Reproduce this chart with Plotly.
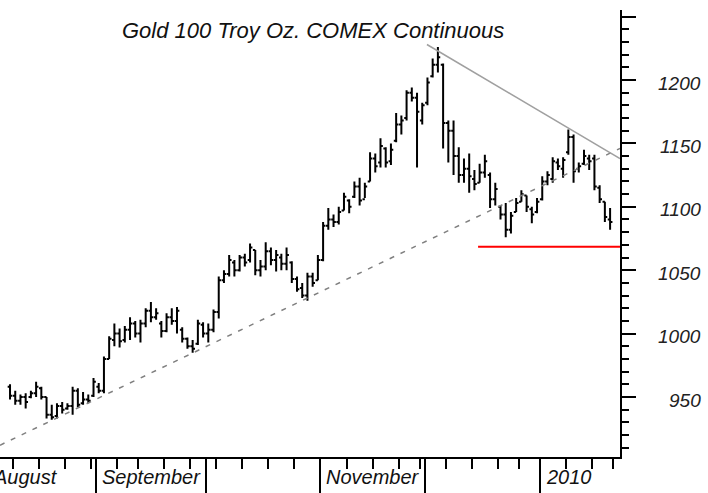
import pandas as pd
import plotly.graph_objects as go

# ---------------- data ----------------
first_bar_date = "2009-08-07"
calendar_start = "2009-08-03"
calendar_end = "2010-01-25"
holidays = ["2009-09-07", "2009-11-26", "2009-12-25", "2010-01-01", "2010-01-18"]

opens = [958, 951, 947, 950, 950, 953, 957, 950, 936, 935, 943, 941, 943, 955, 945, 948, 951,
         958, 955, 980, 995, 1000, 995, 1003, 1008, 1000, 1008, 1018, 1013, 1008, 1002, 1013, 1010,
         1003, 996, 990, 992, 1007, 1000, 1003, 1017, 1042, 1047, 1056, 1050, 1060, 1058, 1066, 1050,
         1053, 1065, 1058, 1060, 1055, 1056, 1043, 1036, 1030, 1045, 1042, 1058, 1085, 1090, 1088,
         1097, 1105, 1108, 1116, 1106, 1120, 1138, 1135, 1146, 1136, 1152, 1165, 1170, 1190, 1186,
         1168, 1182, 1203, 1212, 1212, 1166, 1160, 1140, 1125, 1130, 1122, 1119, 1127, 1125, 1106,
         1100, 1094, 1082, 1096, 1104, 1109, 1098, 1096, 1106, 1120, 1122, 1135, 1130, 1143, 1155,
         1130, 1134, 1138, 1138, 1115, 1104, 1090]
highs = [960, 955, 952, 953, 955, 962, 958, 950, 944, 945, 946, 945, 958, 957, 954, 952, 965,
         961, 982, 998, 1008, 1004, 1006, 1013, 1010, 1011, 1020, 1025, 1020, 1010, 1016, 1020, 1021,
         1005, 997, 995, 1011, 1009, 1008, 1019, 1045, 1050, 1062, 1058, 1062, 1063, 1071, 1066, 1058,
         1072, 1068, 1066, 1063, 1068, 1057, 1045, 1040, 1048, 1048, 1062, 1088, 1099, 1094, 1100,
         1111, 1106, 1120, 1123, 1119, 1143, 1142, 1154, 1147, 1150, 1174, 1172, 1192, 1194, 1190,
         1182, 1202, 1217, 1226, 1213, 1168, 1168, 1147, 1138, 1142, 1129, 1134, 1141, 1127, 1119,
         1101, 1103, 1096, 1107, 1113, 1109, 1100, 1107, 1124, 1128, 1139, 1138, 1139, 1161, 1157,
         1135, 1145, 1141, 1141, 1117, 1104, 1099]
lows = [948, 944, 944, 941, 949, 950, 948, 933, 932, 933, 937, 940, 936, 942, 944, 945, 950,
        953, 953, 980, 990, 989, 993, 995, 997, 993, 1005, 1009, 1011, 997, 1001, 1007, 1000,
        993, 988, 985, 991, 997, 993, 1001, 1012, 1040, 1045, 1045, 1049, 1053, 1056, 1046, 1045,
        1050, 1054, 1049, 1050, 1050, 1040, 1033, 1028, 1026, 1037, 1042, 1057, 1082, 1084, 1086,
        1097, 1095, 1107, 1101, 1107, 1120, 1127, 1131, 1131, 1133, 1151, 1157, 1168, 1183, 1131,
        1165, 1180, 1202, 1206, 1146, 1135, 1125, 1119, 1119, 1111, 1113, 1119, 1123, 1099, 1101,
        1090, 1076, 1079, 1096, 1104, 1096, 1087, 1095, 1105, 1117, 1119, 1129, 1123, 1141, 1119,
        1127, 1133, 1129, 1113, 1103, 1088, 1082]
closes = [951, 947, 950, 946, 953, 958, 950, 936, 934, 943, 940, 943, 955, 944, 948, 947, 962,
          955, 980, 996, 1000, 994, 1003, 1008, 1000, 1008, 1018, 1013, 1016, 1002, 1013, 1010, 1018,
          996, 990, 988, 1008, 1000, 1003, 1017, 1042, 1047, 1058, 1050, 1060, 1056, 1068, 1050, 1053,
          1065, 1058, 1062, 1055, 1062, 1043, 1035, 1030, 1045, 1040, 1058, 1085, 1090, 1088, 1096,
          1108, 1100, 1116, 1105, 1116, 1138, 1132, 1148, 1135, 1145, 1165, 1168, 1190, 1186, 1175,
          1180, 1198, 1212, 1218, 1166, 1160, 1140, 1125, 1130, 1124, 1118, 1127, 1136, 1106, 1114,
          1094, 1082, 1093, 1103, 1110, 1100, 1094, 1104, 1120, 1125, 1136, 1132, 1137, 1155, 1128,
          1132, 1140, 1136, 1116, 1106, 1092, 1088]

month_labels = {"2009-08": "August", "2009-09": "September", "2009-11": "November", "2010-01": "2010"}
price_labels = [950, 1000, 1050, 1100, 1150, 1200]

# drawn trend lines (trading-day index, price)
support_x = [-1.92, 116.9]
support_y = [912, 1146]
resistance_x = [79.9, 116.9]
resistance_y = [1228, 1138]
level_x = [89.7, 116.9]
level_y = [1068.5, 1068.5]

title_text = "Gold 100 Troy Oz. COMEX Continuous"

x_range = [-1.92, 116.9]
y_range = [902.7, 1255.2]

# ---------------- calendar ----------------
calendar = [d for d in pd.bdate_range(calendar_start, calendar_end)
            if d.strftime("%Y-%m-%d") not in holidays]
offset = [d.strftime("%Y-%m-%d") for d in calendar].index(first_bar_date)
xpos = [i - offset for i in range(len(calendar))]
bar_x = list(range(len(closes)))

month_bounds = []
week_bounds = []
for i, d in enumerate(calendar):
    if i == 0 or d.month != calendar[i - 1].month:
        month_bounds.append((xpos[i] - 0.5, d.strftime("%Y-%m")))
    if i > 0 and d.weekday() < calendar[i - 1].weekday():
        week_bounds.append(xpos[i] - 0.5)

fig = go.Figure()
fig.add_trace(go.Ohlc(
    x=bar_x, open=opens, high=highs, low=lows, close=closes,
    increasing=dict(line=dict(color="black", width=2)),
    decreasing=dict(line=dict(color="black", width=2)),
    tickwidth=0.45, showlegend=False, hoverinfo="skip"))

fig.add_trace(go.Scatter(x=support_x, y=support_y, mode="lines",
                         line=dict(color="#808080", width=1.5, dash="5px,7px"),
                         showlegend=False, hoverinfo="skip"))
fig.add_trace(go.Scatter(x=resistance_x, y=resistance_y, mode="lines",
                         line=dict(color="#a0a0a0", width=1.5),
                         showlegend=False, hoverinfo="skip"))
fig.add_trace(go.Scatter(x=level_x, y=level_y, mode="lines",
                         line=dict(color="#ff0000", width=2),
                         showlegend=False, hoverinfo="skip"))

font_family = "Liberation Sans, Arial, sans-serif"
annotations = []
for v in price_labels:
    annotations.append(dict(x=1.134, xref="paper", y=v, yref="y", text=str(v),
                            showarrow=False, xanchor="right", yanchor="middle", yshift=-3,
                            font=dict(family=font_family, size=19, color="#222222", style="italic")))
span = x_range[1] - x_range[0]
for b, key in month_bounds:
    if key in month_labels:
        annotations.append(dict(x=(b - x_range[0]) / span, xref="paper", y=-0.045, yref="paper",
                                text=month_labels[key], showarrow=False, xanchor="left",
                                yanchor="middle", xshift=4,
                                font=dict(family=font_family, size=20, color="#111111", style="italic")))
annotations.append(dict(x=0.505, xref="paper", y=0.955, yref="paper", text=title_text,
                        showarrow=False, xanchor="center", yanchor="middle",
                        font=dict(family=font_family, size=22, color="#111111", style="italic")))

fig.update_layout(
    width=708, height=493,
    margin=dict(l=0, r=88, t=10, b=36),
    paper_bgcolor="white", plot_bgcolor="white",
    showlegend=False,
    annotations=annotations,
    xaxis=dict(range=x_range, showgrid=False, zeroline=False, showline=True,
               linecolor="black", linewidth=2, showticklabels=False,
               ticks="outside", tickmode="array",
               tickvals=[b for b, _ in month_bounds], ticklen=36, tickwidth=1.5, tickcolor="black",
               minor=dict(tickmode="array", tickvals=week_bounds, ticks="outside",
                          ticklen=10, tickwidth=2, tickcolor="black", showgrid=False),
               rangeslider=dict(visible=False), fixedrange=True),
    yaxis=dict(range=y_range, side="right", showgrid=False, zeroline=False, showline=True,
               linecolor="black", linewidth=2, showticklabels=False,
               ticks="outside", tick0=0, dtick=50, ticklen=14, tickwidth=2, tickcolor="black",
               minor=dict(tick0=0, dtick=10, ticks="outside", ticklen=7, tickwidth=2,
                          tickcolor="black", showgrid=False),
               fixedrange=True),
)

fig.write_html("out.html", config={"displayModeBar": False},
               post_script="document.body.style.margin='0';document.body.style.overflow='hidden';")
